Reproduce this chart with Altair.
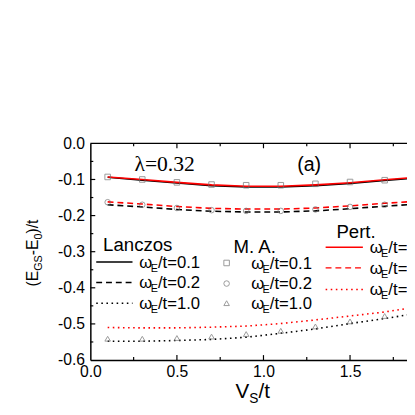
import altair as alt
import pandas as pd

# ---------------- data ----------------
vs = [0.1, 0.3, 0.5, 0.7, 0.9, 1.1, 1.3, 1.5, 1.7, 1.9]

lanczos_01 = [-0.094, -0.102, -0.110, -0.117, -0.121, -0.121, -0.117, -0.111, -0.103, -0.095]
pert_01 = [-0.093, -0.100, -0.108, -0.115, -0.119, -0.119, -0.115, -0.109, -0.101, -0.093]
ma_01 = [-0.093, -0.100, -0.108, -0.114, -0.116, -0.116, -0.112, -0.107, -0.102, -0.095]

lanczos_02 = [-0.170, -0.176, -0.183, -0.188, -0.190, -0.190, -0.187, -0.181, -0.174, -0.168]
pert_02 = [-0.162, -0.168, -0.175, -0.180, -0.182, -0.182, -0.179, -0.173, -0.166, -0.160]
ma_02 = [-0.163, -0.170, -0.179, -0.185, -0.187, -0.187, -0.183, -0.176, -0.170, -0.163]

lanczos_10 = [-0.548, -0.548, -0.546, -0.543, -0.537, -0.526, -0.514, -0.499, -0.485, -0.470]
pert_10 = [-0.510, -0.511, -0.511, -0.509, -0.506, -0.499, -0.489, -0.478, -0.467, -0.452]
ma_10 = [-0.541, -0.541, -0.539, -0.535, -0.528, -0.519, -0.507, -0.493, -0.478, -0.462]

x_major = [0.0, 0.5, 1.0, 1.5]
x_minor = [0.25, 0.75, 1.25, 1.75]
y_major = [0.0, -0.1, -0.2, -0.3, -0.4, -0.5, -0.6]
y_minor = [-0.05, -0.15, -0.25, -0.35, -0.45, -0.55]

# ---------------- layout ----------------
W, H = 323, 221
SANS = "Liberation Sans"
SERIF = "Liberation Serif"
RED = "#ff0000"

xscale = alt.Scale(domain=[0, 1.829], nice=False, zero=False)
yscale = alt.Scale(domain=[-0.6, 0.0], nice=False, zero=False)

xaxis = alt.Axis(values=x_major, ticks=False, grid=False, title=None, labelFont=SANS,
                 labelFontSize=16, labelColor="black", labelPadding=4, labelFlush=False,
                 domainColor="black", domainWidth=1.5, labelExpr="format(datum.value, '.1f')")
yaxis = alt.Axis(values=y_major, ticks=False, grid=False, title=None, labelFont=SANS,
                 labelFontSize=16, labelColor="black", labelPadding=6, labelFlush=False,
                 domainColor="black", domainWidth=1.5,
                 labelExpr="datum.value == 0 ? '0.0' : '-' + format(abs(datum.value), '.1f')")


def X():
    return alt.X("x:Q", scale=xscale, axis=xaxis)


def Y():
    return alt.Y("y:Q", scale=yscale, axis=yaxis)


def series_df(ys):
    return pd.DataFrame({"x": vs, "y": ys})


def line(ys, color, dash=None, width=1.6):
    kw = dict(color=color, strokeWidth=width, clip=True)
    if dash:
        kw["strokeDash"] = dash
    return alt.Chart(series_df(ys)).mark_line(**kw).encode(x=X(), y=Y())


def points(ys, shape):
    return alt.Chart(series_df(ys)).mark_point(shape=shape, filled=False, color="#707070",
                                               size=32, strokeWidth=1, clip=True).encode(x=X(), y=Y())


one = alt.Data(values=[{"k": 0}])


def text(x, y, s, size=16, font=SANS, angle=0, align="left", baseline="alphabetic", color="black"):
    kw = dict(fontSize=size, font=font, align=align, baseline=baseline, color=color)
    if angle:
        kw["angle"] = angle
    return alt.Chart(one).mark_text(**kw).encode(x=alt.value(x), y=alt.value(y), text=alt.value(s))


def hrule(x1, x2, y, color="black", dash=None, width=1.5):
    kw = dict(color=color, strokeWidth=width)
    if dash:
        kw["strokeDash"] = dash
    return alt.Chart(one).mark_rule(**kw).encode(x=alt.value(x1), x2=alt.value(x2), y=alt.value(y))


def omega_label(x0, yc, val):
    b = yc + 6
    return [
        text(x0, b, "ω", 17),
        text(x0 + 11.5, b + 4, "E", 11),
        text(x0 + 19, b, "/t=" + val, 17),
    ]


DASH = [6, 4]
DOT = [1.6, 3.6]

layers = []

# axes carrier (invisible)
axis_df = pd.DataFrame({"x": [0.0], "y": [0.0]})
layers.append(alt.Chart(axis_df).mark_point(opacity=0).encode(x=X(), y=Y()))


# inward ticks
def xticks(vals, length, top):
    df = pd.DataFrame({"x": vals})
    y1, y2 = (0, length) if top else (H, H - length)
    return alt.Chart(df).mark_rule(color="black", strokeWidth=1.2).encode(
        x=X(), y=alt.value(y1), y2=alt.value(y2))


def yticks(vals, length):
    df = pd.DataFrame({"y": vals})
    return alt.Chart(df).mark_rule(color="black", strokeWidth=1.2).encode(
        y=Y(), x=alt.value(0), x2=alt.value(length))


layers += [xticks(x_major[1:], 5, False), xticks(x_minor, 3, False),
           xticks(x_major[1:], 5, True), xticks(x_minor, 3, True),
           yticks(y_major[1:-1], 5), yticks(y_minor, 3)]
# top frame line
layers.append(hrule(0, W, 0, width=1.5))

# curves
layers += [
    line(lanczos_01, "black"),
    line(pert_01, RED),
    line(lanczos_02, "black", DASH),
    line(pert_02, RED, DASH),
    line(lanczos_10, "black", DOT),
    line(pert_10, RED, DOT),
    points(ma_01, "square"),
    points(ma_02, "circle"),
    points(ma_10, "triangle-up"),
]

# annotations
layers.append(text(45, 28, "λ=0.32", 22, SERIF))
layers.append(text(211, 28, "(a)", 20))

# Lanczos legend
layers.append(text(13, 110, "Lanczos", 19))
lrows = [121, 142, 163]
layers.append(hrule(6, 43, lrows[0]))
layers.append(hrule(6, 43, lrows[1], dash=DASH))
layers.append(hrule(6, 43, lrows[2], dash=DOT))
for yc, v in zip(lrows, ["0.1", "0.2", "1.0"]):
    layers += omega_label(50, yc, v)

# M. A. legend
layers.append(text(146, 112, "M. A.", 19))
mrows = [122, 143, 163]
for yc, shp in zip(mrows, ["square", "circle", "triangle-up"]):
    layers.append(alt.Chart(one).mark_point(shape=shp, filled=False, color="#707070", size=32,
                                            strokeWidth=1).encode(x=alt.value(139), y=alt.value(yc)))
for yc, v in zip(mrows, ["0.1", "0.2", "1.0"]):
    layers += omega_label(164, yc, v)

# Pert. legend
layers.append(text(251, 97, "Pert.", 19))
prows = [106, 127, 149]
layers.append(hrule(240, 278, prows[0], RED))
layers.append(hrule(240, 278, prows[1], RED, DASH))
layers.append(hrule(240, 278, prows[2], RED, DOT))
for yc, v in zip(prows, ["0.1", "0.2", "1.0"]):
    layers += omega_label(285, yc, v)

# x title  V_S/t
layers += [text(148, 260, "V", 21), text(162, 265, "S", 14), text(171.5, 260, "/t", 21)]

# y title (E_GS-E_0)/t, rotated
yx = -53
layers += [
    text(yx, 146, "(E", 16, angle=270),
    text(yx + 4, 130, "GS", 11, angle=270),
    text(yx, 114, "-E", 16, angle=270),
    text(yx + 4, 98, "0", 11, angle=270),
    text(yx, 92, ")/t", 16, angle=270),
]

chart = alt.layer(*layers).properties(
    width=W, height=H,
    autosize=alt.AutoSizeParams(type="none"),
    padding={"left": 84, "top": 134, "right": 0, "bottom": 52},
    background="white",
).configure_view(stroke=None)

chart.save("out.html", embed_options={"renderer": "svg", "actions": False})
